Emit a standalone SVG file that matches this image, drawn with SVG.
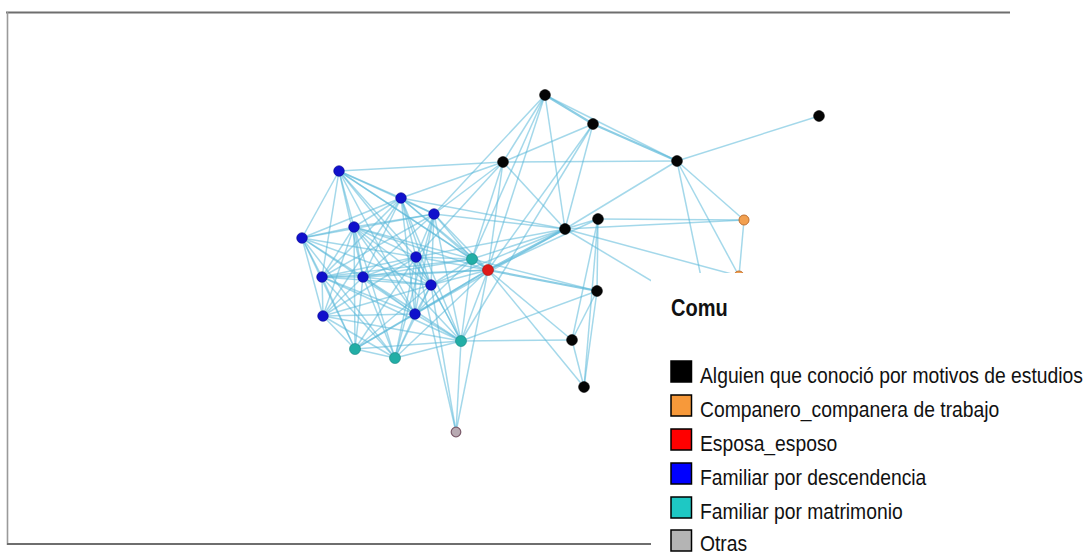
<svg xmlns="http://www.w3.org/2000/svg" width="1088" height="553" viewBox="0 0 1088 553">
  <style>
    .e { stroke: #5ab8d8; stroke-opacity: 0.55; stroke-width: 1.5; fill: none; }
    .e2 { stroke: #5ab8d8; stroke-opacity: 0.7; stroke-width: 2.2; fill: none; }
    .blk { fill: #050505; stroke: #000; stroke-width: 0.6; }
    .blu { fill: #1010cc; stroke: #08088e; stroke-width: 0.6; }
    .tea { fill: #22aea6; stroke: #16857f; stroke-width: 0.6; }
    .red { fill: #de1a1a; stroke: #a01010; stroke-width: 0.6; }
    .org { fill: #f2a050; stroke: #c07030; stroke-width: 1; }
    .gry { fill: #b8aab2; stroke: #7a5a6a; stroke-width: 1.2; }
    .lg { font-family: "Liberation Sans", Arial, sans-serif; font-size: 19.3px; fill: #111; }
    .lgt { font-family: "Liberation Sans", Arial, sans-serif; font-size: 20px; font-weight: bold; fill: #111; }
    .sw { stroke: #000; stroke-width: 1.5; }
  </style>

  <rect x="0" y="0" width="1088" height="553" fill="#ffffff"/>

  <g id="connectors">
    <!-- family cluster -->
    <line class="e" x1="339" y1="171" x2="401" y2="198"/>
    <line class="e" x1="339" y1="171" x2="434" y2="214"/>
    <line class="e" x1="339" y1="171" x2="354" y2="227"/>
    <line class="e" x1="339" y1="171" x2="302" y2="238"/>
    <line class="e" x1="339" y1="171" x2="416" y2="257"/>
    <line class="e" x1="339" y1="171" x2="322" y2="277"/>
    <line class="e" x1="339" y1="171" x2="363" y2="277"/>
    <line class="e" x1="339" y1="171" x2="431" y2="285"/>
    <line class="e" x1="339" y1="171" x2="415" y2="314"/>
    <line class="e" x1="339" y1="171" x2="472" y2="259"/>
    <line class="e" x1="339" y1="171" x2="488" y2="270"/>

    <line class="e" x1="401" y1="198" x2="434" y2="214"/>
    <line class="e" x1="401" y1="198" x2="354" y2="227"/>
    <line class="e" x1="401" y1="198" x2="302" y2="238"/>
    <line class="e" x1="401" y1="198" x2="416" y2="257"/>
    <line class="e" x1="401" y1="198" x2="322" y2="277"/>
    <line class="e" x1="401" y1="198" x2="363" y2="277"/>
    <line class="e" x1="401" y1="198" x2="431" y2="285"/>
    <line class="e" x1="401" y1="198" x2="323" y2="316"/>
    <line class="e" x1="401" y1="198" x2="415" y2="314"/>
    <line class="e" x1="401" y1="198" x2="472" y2="259"/>
    <line class="e" x1="401" y1="198" x2="488" y2="270"/>
    <line class="e" x1="401" y1="198" x2="461" y2="341"/>

    <line class="e" x1="434" y1="214" x2="354" y2="227"/>
    <line class="e" x1="434" y1="214" x2="302" y2="238"/>
    <line class="e" x1="434" y1="214" x2="416" y2="257"/>
    <line class="e" x1="434" y1="214" x2="322" y2="277"/>
    <line class="e" x1="434" y1="214" x2="363" y2="277"/>
    <line class="e" x1="434" y1="214" x2="431" y2="285"/>
    <line class="e" x1="434" y1="214" x2="415" y2="314"/>
    <line class="e" x1="434" y1="214" x2="472" y2="259"/>
    <line class="e" x1="434" y1="214" x2="488" y2="270"/>
    <line class="e" x1="434" y1="214" x2="461" y2="341"/>
    <line class="e" x1="434" y1="214" x2="395" y2="358"/>

    <line class="e" x1="354" y1="227" x2="302" y2="238"/>
    <line class="e" x1="354" y1="227" x2="416" y2="257"/>
    <line class="e" x1="354" y1="227" x2="322" y2="277"/>
    <line class="e" x1="354" y1="227" x2="363" y2="277"/>
    <line class="e" x1="354" y1="227" x2="431" y2="285"/>
    <line class="e" x1="354" y1="227" x2="323" y2="316"/>
    <line class="e" x1="354" y1="227" x2="415" y2="314"/>
    <line class="e" x1="354" y1="227" x2="472" y2="259"/>
    <line class="e" x1="354" y1="227" x2="488" y2="270"/>
    <line class="e" x1="354" y1="227" x2="461" y2="341"/>
    <line class="e" x1="354" y1="227" x2="355" y2="349"/>
    <line class="e" x1="354" y1="227" x2="395" y2="358"/>

    <line class="e" x1="302" y1="238" x2="416" y2="257"/>
    <line class="e" x1="302" y1="238" x2="322" y2="277"/>
    <line class="e" x1="302" y1="238" x2="363" y2="277"/>
    <line class="e" x1="302" y1="238" x2="431" y2="285"/>
    <line class="e" x1="302" y1="238" x2="323" y2="316"/>
    <line class="e" x1="302" y1="238" x2="415" y2="314"/>
    <line class="e" x1="302" y1="238" x2="355" y2="349"/>
    <line class="e" x1="302" y1="238" x2="395" y2="358"/>

    <line class="e" x1="416" y1="257" x2="322" y2="277"/>
    <line class="e" x1="416" y1="257" x2="363" y2="277"/>
    <line class="e" x1="416" y1="257" x2="431" y2="285"/>
    <line class="e" x1="416" y1="257" x2="323" y2="316"/>
    <line class="e" x1="416" y1="257" x2="415" y2="314"/>
    <line class="e" x1="416" y1="257" x2="472" y2="259"/>
    <line class="e" x1="416" y1="257" x2="488" y2="270"/>
    <line class="e" x1="416" y1="257" x2="461" y2="341"/>
    <line class="e" x1="416" y1="257" x2="355" y2="349"/>
    <line class="e" x1="416" y1="257" x2="395" y2="358"/>

    <line class="e" x1="322" y1="277" x2="363" y2="277"/>
    <line class="e" x1="322" y1="277" x2="431" y2="285"/>
    <line class="e" x1="322" y1="277" x2="323" y2="316"/>
    <line class="e" x1="322" y1="277" x2="415" y2="314"/>
    <line class="e" x1="322" y1="277" x2="472" y2="259"/>
    <line class="e" x1="322" y1="277" x2="488" y2="270"/>
    <line class="e" x1="322" y1="277" x2="461" y2="341"/>
    <line class="e" x1="322" y1="277" x2="355" y2="349"/>
    <line class="e" x1="322" y1="277" x2="395" y2="358"/>

    <line class="e" x1="363" y1="277" x2="431" y2="285"/>
    <line class="e" x1="363" y1="277" x2="323" y2="316"/>
    <line class="e" x1="363" y1="277" x2="415" y2="314"/>
    <line class="e" x1="363" y1="277" x2="472" y2="259"/>
    <line class="e" x1="363" y1="277" x2="488" y2="270"/>
    <line class="e" x1="363" y1="277" x2="461" y2="341"/>
    <line class="e" x1="363" y1="277" x2="355" y2="349"/>
    <line class="e" x1="363" y1="277" x2="395" y2="358"/>

    <line class="e" x1="431" y1="285" x2="323" y2="316"/>
    <line class="e" x1="431" y1="285" x2="415" y2="314"/>
    <line class="e" x1="431" y1="285" x2="472" y2="259"/>
    <line class="e" x1="431" y1="285" x2="488" y2="270"/>
    <line class="e" x1="431" y1="285" x2="461" y2="341"/>
    <line class="e" x1="431" y1="285" x2="355" y2="349"/>
    <line class="e" x1="431" y1="285" x2="395" y2="358"/>

    <line class="e" x1="323" y1="316" x2="415" y2="314"/>
    <line class="e" x1="323" y1="316" x2="355" y2="349"/>
    <line class="e" x1="323" y1="316" x2="395" y2="358"/>
    <line class="e" x1="323" y1="316" x2="461" y2="341"/>

    <line class="e" x1="415" y1="314" x2="472" y2="259"/>
    <line class="e" x1="415" y1="314" x2="488" y2="270"/>
    <line class="e" x1="415" y1="314" x2="461" y2="341"/>
    <line class="e" x1="415" y1="314" x2="355" y2="349"/>
    <line class="e" x1="415" y1="314" x2="395" y2="358"/>

    <line class="e" x1="355" y1="349" x2="395" y2="358"/>
    <line class="e" x1="355" y1="349" x2="461" y2="341"/>
    <line class="e" x1="355" y1="349" x2="488" y2="270"/>
    <line class="e" x1="395" y1="358" x2="461" y2="341"/>
    <line class="e" x1="395" y1="358" x2="488" y2="270"/>
    <line class="e" x1="461" y1="341" x2="488" y2="270"/>
    <line class="e" x1="461" y1="341" x2="472" y2="259"/>
    <line class="e" x1="472" y1="259" x2="488" y2="270"/>

    <!-- study acquaintances and bridges -->
    <line class="e2" x1="545" y1="95" x2="593" y2="124"/>
    <line class="e" x1="545" y1="95" x2="677" y2="161"/>
    <line class="e2" x1="593" y1="124" x2="677" y2="161"/>
    <line class="e" x1="545" y1="95" x2="503" y2="162"/>
    <line class="e" x1="545" y1="95" x2="488" y2="270"/>
    <line class="e" x1="545" y1="95" x2="472" y2="259"/>
    <line class="e" x1="545" y1="95" x2="565" y2="229"/>
    <line class="e" x1="545" y1="95" x2="434" y2="214"/>
    <line class="e" x1="593" y1="124" x2="503" y2="162"/>
    <line class="e" x1="593" y1="124" x2="565" y2="229"/>
    <line class="e" x1="593" y1="124" x2="461" y2="341"/>
    <line class="e" x1="593" y1="124" x2="488" y2="270"/>
    <line class="e" x1="503" y1="162" x2="677" y2="161"/>
    <line class="e" x1="503" y1="162" x2="565" y2="229"/>
    <line class="e" x1="503" y1="162" x2="488" y2="270"/>
    <line class="e" x1="503" y1="162" x2="472" y2="259"/>
    <line class="e" x1="503" y1="162" x2="401" y2="198"/>
    <line class="e" x1="503" y1="162" x2="434" y2="214"/>
    <line class="e" x1="503" y1="162" x2="416" y2="257"/>
    <line class="e" x1="503" y1="162" x2="339" y2="171"/>
    <line class="e" x1="677" y1="161" x2="819" y2="116"/>
    <line class="e" x1="677" y1="161" x2="565" y2="229"/>
    <line class="e" x1="677" y1="161" x2="744" y2="220"/>
    <line class="e" x1="677" y1="161" x2="739" y2="276"/>
    <line class="e" x1="677" y1="161" x2="712" y2="330"/>
    <line class="e2" x1="565" y1="229" x2="488" y2="270"/>
    <line class="e" x1="565" y1="229" x2="472" y2="259"/>
    <line class="e" x1="565" y1="229" x2="598" y2="219"/>
    <line class="e" x1="565" y1="229" x2="739" y2="276"/>
    <line class="e" x1="565" y1="229" x2="744" y2="220"/>
    <line class="e" x1="565" y1="229" x2="700" y2="310"/>
    <line class="e" x1="565" y1="229" x2="401" y2="198"/>
    <line class="e" x1="565" y1="229" x2="434" y2="214"/>
    <line class="e" x1="565" y1="229" x2="416" y2="257"/>
    <line class="e" x1="565" y1="229" x2="431" y2="285"/>
    <line class="e" x1="565" y1="229" x2="415" y2="314"/>
    <line class="e" x1="598" y1="219" x2="744" y2="220"/>
    <line class="e" x1="598" y1="219" x2="597" y2="291"/>
    <line class="e" x1="598" y1="219" x2="584" y2="387"/>
    <line class="e" x1="598" y1="219" x2="488" y2="270"/>
    <line class="e" x1="598" y1="219" x2="572" y2="340"/>
    <line class="e2" x1="597" y1="291" x2="488" y2="270"/>
    <line class="e" x1="597" y1="291" x2="572" y2="340"/>
    <line class="e" x1="597" y1="291" x2="584" y2="387"/>
    <line class="e" x1="597" y1="291" x2="461" y2="341"/>
    <line class="e" x1="597" y1="291" x2="472" y2="259"/>
    <line class="e" x1="572" y1="340" x2="488" y2="270"/>
    <line class="e" x1="572" y1="340" x2="584" y2="387"/>
    <line class="e" x1="572" y1="340" x2="461" y2="341"/>
    <line class="e" x1="584" y1="387" x2="488" y2="270"/>
    <line class="e" x1="744" y1="220" x2="739" y2="276"/>

    <!-- links to the lone grey node -->
    <line class="e" x1="456" y1="432" x2="488" y2="270"/>
    <line class="e" x1="456" y1="432" x2="461" y2="341"/>
    <line class="e" x1="456" y1="432" x2="416" y2="257"/>
    <line class="e" x1="456" y1="432" x2="431" y2="285"/>
  </g>

  <g id="nodes">
    <g id="n-b1"><circle class="blu" cx="339" cy="171" r="5.3"/></g>
    <g id="n-b2"><circle class="blu" cx="401" cy="198" r="5.3"/></g>
    <g id="n-b3"><circle class="blu" cx="434" cy="214" r="5.3"/></g>
    <g id="n-b4"><circle class="blu" cx="354" cy="227" r="5.3"/></g>
    <g id="n-b5"><circle class="blu" cx="302" cy="238" r="5.3"/></g>
    <g id="n-b6"><circle class="blu" cx="416" cy="257" r="5.3"/></g>
    <g id="n-b7"><circle class="blu" cx="322" cy="277" r="5.3"/></g>
    <g id="n-b8"><circle class="blu" cx="363" cy="277" r="5.3"/></g>
    <g id="n-b9"><circle class="blu" cx="431" cy="285" r="5.3"/></g>
    <g id="n-b10"><circle class="blu" cx="323" cy="316" r="5.3"/></g>
    <g id="n-b11"><circle class="blu" cx="415" cy="314" r="5.3"/></g>
    <g id="n-t1"><circle class="tea" cx="472" cy="259" r="5.5"/></g>
    <g id="n-t2"><circle class="tea" cx="461" cy="341" r="5.5"/></g>
    <g id="n-t3"><circle class="tea" cx="355" cy="349" r="5.5"/></g>
    <g id="n-t4"><circle class="tea" cx="395" cy="358" r="5.5"/></g>
    <g id="n-r"><circle class="red" cx="488" cy="270" r="5.5"/></g>
    <g id="n-k1"><circle class="blk" cx="545" cy="95" r="5.4"/></g>
    <g id="n-k2"><circle class="blk" cx="593" cy="124" r="5.4"/></g>
    <g id="n-k3"><circle class="blk" cx="503" cy="162" r="5.4"/></g>
    <g id="n-k4"><circle class="blk" cx="677" cy="161" r="5.4"/></g>
    <g id="n-k5"><circle class="blk" cx="819" cy="116" r="5.4"/></g>
    <g id="n-k6"><circle class="blk" cx="565" cy="229" r="5.4"/></g>
    <g id="n-k7"><circle class="blk" cx="598" cy="219" r="5.4"/></g>
    <g id="n-k8"><circle class="blk" cx="597" cy="291" r="5.4"/></g>
    <g id="n-k9"><circle class="blk" cx="572" cy="340" r="5.4"/></g>
    <g id="n-k10"><circle class="blk" cx="584" cy="387" r="5.4"/></g>
    <g id="n-o1"><circle class="org" cx="744" cy="220" r="5"/></g>
    <g id="n-o2"><circle class="org" cx="739" cy="276" r="5"/></g>
    <g id="n-g"><circle class="gry" cx="456" cy="432" r="4.8"/></g>
  </g>

  <!-- frame -->
  <g id="frame">
    <line x1="6" y1="12.5" x2="1010" y2="12.5" stroke="#6e6e6e" stroke-width="2"/>
    <line x1="7.5" y1="12" x2="7.5" y2="545" stroke="#9a9a9a" stroke-width="1.6"/>
    <line x1="7" y1="544" x2="651" y2="544" stroke="#6e6e6e" stroke-width="2"/>
  </g>

  <!-- legend panel -->
  <g id="legend">
    <rect x="651" y="273" width="437" height="280" fill="#ffffff"/>
    <text class="lgt" transform="translate(671 316) scale(1 1.15)">Comu</text>
    <rect class="sw" x="671" y="361" width="20.5" height="21" fill="#000000"/>
    <text class="lg" transform="translate(700 382.5) scale(1 1.17)">Alguien que conoció por motivos de estudios</text>
    <rect class="sw" x="671" y="395" width="20.5" height="21" fill="#f7993a"/>
    <text class="lg" transform="translate(700 416.5) scale(1 1.17)">Companero_companera de trabajo</text>
    <rect class="sw" x="671" y="429" width="20.5" height="21" fill="#ff0000"/>
    <text class="lg" transform="translate(700 450.5) scale(1 1.17)">Esposa_esposo</text>
    <rect class="sw" x="671" y="463" width="20.5" height="21" fill="#0000ff"/>
    <text class="lg" transform="translate(700 484.5) scale(1 1.17)">Familiar por descendencia</text>
    <rect class="sw" x="671" y="497" width="20.5" height="21" fill="#1ec8c4"/>
    <text class="lg" transform="translate(700 518.5) scale(1 1.17)">Familiar por matrimonio</text>
    <rect class="sw" x="671" y="530" width="20.5" height="21" fill="#b4b4b4"/>
    <text class="lg" transform="translate(700 550.5) scale(1 1.17)">Otras</text>
  </g>
</svg>
